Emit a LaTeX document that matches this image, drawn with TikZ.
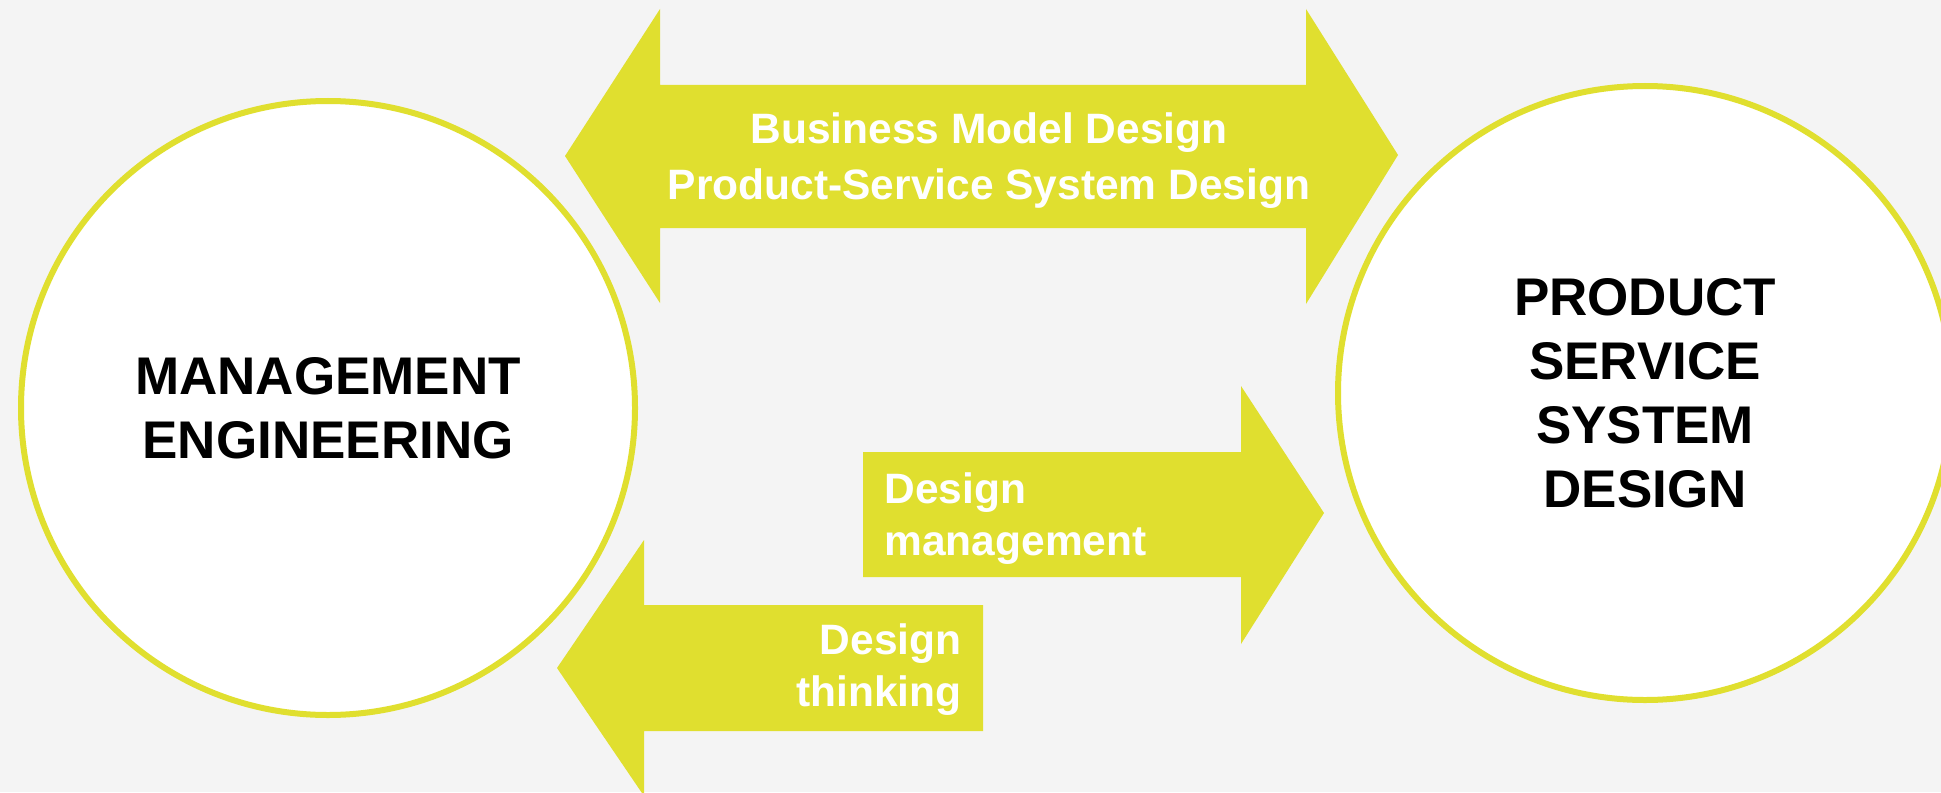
\documentclass[tikz,border=0pt]{standalone}
\usepackage{fontspec}
\setmainfont{Liberation Sans}
\definecolor{pssyellow}{RGB}{224,223,47}
\definecolor{pssgrey}{RGB}{244,244,244}

\begin{document}
\begin{tikzpicture}[x=0.5pt, y=-0.5pt,
		field/.style={circle, draw=pssyellow, line width=3pt, fill=white, minimum size=307pt, inner sep=0pt, align=center, font=\fontsize{26.5}{32}\selectfont\bfseries},
		blocklabel/.style={text=white, inner sep=0pt, font=\fontsize{21.25}{26}\selectfont\bfseries}]
		\fill[pssgrey] (0,0) rectangle (1941,792);
		\useasboundingbox (0,0) rectangle (1941,792);
		
		\node[field] (me) at (328,408) {MANAGEMENT\\ENGINEERING};
		\node[field] (pssd) at (1645,393) {PRODUCT\\SERVICE\\SYSTEM\\DESIGN};
		
		\fill[pssyellow] (565,156) -- (660,9) -- (660,85) -- (1306,85) -- (1306,9) -- (1398,155) -- (1306,304) -- (1306,228) -- (660,228) -- (660,303) -- cycle;
		\fill[pssyellow] (863,452) -- (1241,452) -- (1241,386) -- (1324,513) -- (1241,644) -- (1241,577) -- (863,577) -- cycle;
		\fill[pssyellow] (983,605) -- (644,605) -- (644,540) -- (557,668) -- (644,796) -- (644,731) -- (983,731) -- cycle;
		
		\node[blocklabel, align=center, font=\fontsize{21.25}{28}\selectfont\bfseries] (bmd) at (989,161) {Business Model Design\\Product-Service System Design};
		\node[blocklabel, align=left, anchor=west] (dm) at (884,519) {Design\\management};
		\node[blocklabel, align=right, anchor=east] (dt) at (962,670) {Design\\thinking};
\end{tikzpicture}
\end{document}
